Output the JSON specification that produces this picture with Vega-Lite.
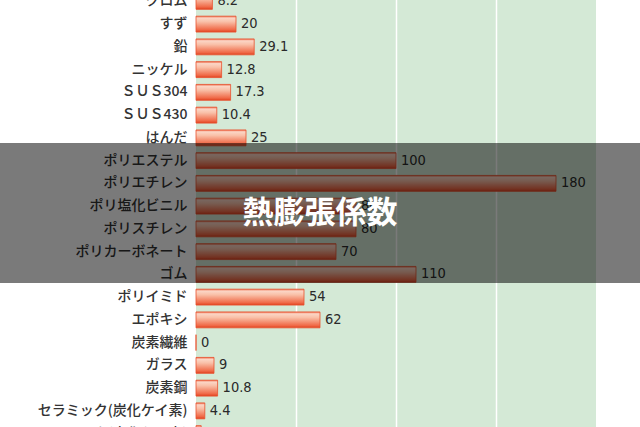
{
  "$schema": "https://vega.github.io/schema/vega-lite/v6.json",
  "autosize": "none",
  "width": 400,
  "height": 455,
  "padding": {"left": 196, "top": -10, "right": 44, "bottom": -18},
  "background": "white",
  "config": {
    "view": {"fill": "#d4e9d6", "stroke": null},
    "font": "Noto Sans CJK JP"
  },
  "datasets": {
    "cte": [
      {"material": "クロム", "value": 8.2},
      {"material": "すず", "value": 20},
      {"material": "鉛", "value": 29.1},
      {"material": "ニッケル", "value": 12.8},
      {"material": "ＳＵＳ304", "value": 17.3},
      {"material": "ＳＵＳ430", "value": 10.4},
      {"material": "はんだ", "value": 25},
      {"material": "ポリエステル", "value": 100},
      {"material": "ポリエチレン", "value": 180},
      {"material": "ポリ塩化ビニル", "value": 80},
      {"material": "ポリスチレン", "value": 80},
      {"material": "ポリカーボネート", "value": 70},
      {"material": "ゴム", "value": 110},
      {"material": "ポリイミド", "value": 54},
      {"material": "エポキシ", "value": 62},
      {"material": "炭素繊維", "value": 0},
      {"material": "ガラス", "value": 9},
      {"material": "炭素鋼", "value": 10.8},
      {"material": "セラミック(炭化ケイ素)", "value": 4.4},
      {"material": "セラミック(窒化ケイ素)", "value": 2.6}
    ],
    "band": [
      {"x0": -98, "x1": 222, "top": 6.72, "bottom": 12.88, "name": "熱膨張係数", "mid": 9.85, "cx": 62}
    ]
  },
  "layer": [
    {
      "data": {"name": "cte"},
      "encoding": {
        "y": {
          "field": "material",
          "type": "nominal",
          "sort": null,
          "scale": {"paddingInner": 0.3, "paddingOuter": 0.15},
          "axis": {
            "title": null,
            "ticks": false,
            "domain": false,
            "labelPadding": 9,
            "labelFontSize": 14,
            "labelFontWeight": 500,
            "labelColor": "#333333",
            "labelFont": "Noto Sans CJK JP"
          }
        },
        "x": {
          "field": "value",
          "type": "quantitative",
          "scale": {"domain": [0, 200], "nice": false},
          "axis": {
            "title": null,
            "values": [50, 100, 150],
            "labels": false,
            "ticks": false,
            "domain": false,
            "grid": true,
            "gridColor": "white",
            "gridWidth": 1.5,
            "gridOpacity": 1
          }
        }
      },
      "layer": [
        {
          "mark": {
            "type": "bar",
            "stroke": "#e8502e",
            "strokeWidth": 0.8,
            "color": {
              "gradient": "linear",
              "x1": 0, "y1": 0, "x2": 0, "y2": 1,
              "stops": [
                {"offset": 0, "color": "#f07050"},
                {"offset": 0.12, "color": "#fbd6c6"},
                {"offset": 0.35, "color": "#f9c0a8"},
                {"offset": 0.85, "color": "#f06a48"},
                {"offset": 1, "color": "#e0401f"}
              ]
            }
          }
        },
        {
          "mark": {
            "type": "text",
            "align": "left",
            "baseline": "middle",
            "dx": 5,
            "font": "'DejaVu Sans Condensed', Roboto, sans-serif",
            "fontSize": 14.5,
            "color": "#2a2a2a"
          },
          "encoding": {
            "text": {"field": "value", "type": "quantitative"}
          }
        }
      ]
    },
    {
      "data": {"name": "band"},
      "layer": [
        {
          "mark": {"type": "rect", "color": "#000000", "opacity": 0.52},
          "encoding": {
            "x": {"field": "x0", "type": "quantitative"},
            "x2": {"field": "x1"},
            "y": {
              "field": "top",
              "type": "quantitative",
              "scale": {"domain": [0, 20], "reverse": true, "nice": false, "zero": false},
              "axis": null
            },
            "y2": {"field": "bottom"}
          }
        },
        {
          "mark": {
            "type": "text",
            "align": "center",
            "baseline": "middle",
            "font": "Noto Sans CJK JP",
            "fontWeight": "bold",
            "fontSize": 31,
            "color": "white"
          },
          "encoding": {
            "x": {"field": "cx", "type": "quantitative"},
            "y": {"field": "mid", "type": "quantitative"},
            "text": {"field": "name"}
          }
        }
      ]
    }
  ],
  "resolve": {"scale": {"y": "independent"}}
}
